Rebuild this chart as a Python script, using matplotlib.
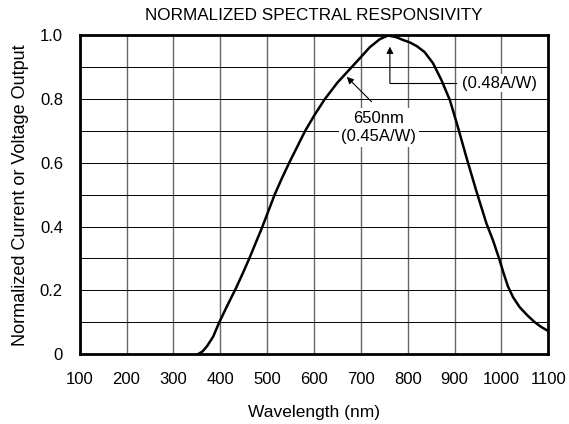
import numpy as np
import matplotlib.pyplot as plt
from matplotlib.ticker import MultipleLocator

plt.rcParams['font.family'] = ['Liberation Sans', 'DejaVu Sans']

# normalized spectral responsivity
wavelength = [353, 362, 372, 385, 398, 415, 432, 447, 462, 476, 490, 503, 516, 531,
              547, 564, 581, 601, 623, 650, 680, 700, 719, 740, 758, 775, 790, 805,
              820, 836, 854, 872, 890, 907, 925, 946, 968, 982, 995, 1005, 1014, 1025,
              1039, 1055, 1071, 1085, 1100]
response = [0.0, 0.008, 0.025, 0.055, 0.1, 0.152, 0.202, 0.25, 0.3, 0.35, 0.4, 0.45, 0.5, 0.55,
            0.6, 0.65, 0.7, 0.75, 0.8, 0.852, 0.9, 0.932, 0.963, 0.988, 1.0, 0.995, 0.986, 0.978,
            0.966, 0.948, 0.913, 0.86, 0.797, 0.713, 0.619, 0.514, 0.41, 0.357, 0.3, 0.252, 0.212, 0.178,
            0.147, 0.122, 0.1, 0.085, 0.072]

x_ticks = [100, 200, 300, 400, 500, 600, 700, 800, 900, 1000, 1100]
y_ticks = [0, 0.2, 0.4, 0.6, 0.8, 1.0]
y_tick_labels = ['0', '0.2', '0.4', '0.6', '0.8', '1.0']

fig = plt.figure(figsize=(5.69, 4.24), dpi=100)
ax = fig.add_axes([0.140, 0.165, 0.8236, 0.7513])

ax.set_xlim(100, 1100)
ax.set_ylim(0, 1.0)
ax.set_xticks(x_ticks)
ax.set_yticks(y_ticks)
ax.set_yticklabels(y_tick_labels)
ax.yaxis.set_minor_locator(MultipleLocator(0.1))
ax.tick_params(which='both', length=0, labelsize=12)
ax.tick_params(axis='x', pad=13)
ax.tick_params(axis='y', pad=12)

ax.grid(axis='x', which='major', color='#666666', linewidth=1.0)
ax.grid(axis='y', which='both', color='black', linewidth=0.7)
ax.set_axisbelow(True)
for s in ax.spines.values():
    s.set_linewidth(2.0)

ax.plot(wavelength, response, color='black', linewidth=1.8, zorder=3,
        solid_joinstyle='round')

# 650nm annotation
ax.annotate('', xy=(670, 0.87), xytext=(723, 0.792),
            arrowprops=dict(arrowstyle='-|>', color='black', lw=0.8,
                            mutation_scale=10, shrinkA=0, shrinkB=0), zorder=4)
ax.text(738, 0.711, '650nm\n(0.45A/W)', ha='center', va='center', fontsize=12,
        linespacing=1.3, zorder=4,
        bbox=dict(boxstyle='square,pad=0.15', fc='white', ec='none'))

# peak annotation
ax.plot([904, 762], [0.85, 0.85], color='black', linewidth=0.8, zorder=4)
ax.annotate('', xy=(762, 0.965), xytext=(762, 0.85),
            arrowprops=dict(arrowstyle='-|>', color='black', lw=0.8,
                            mutation_scale=10, shrinkA=0, shrinkB=0), zorder=4)
ax.text(915, 0.85, '(0.48A/W)', ha='left', va='center', fontsize=12, zorder=4,
        bbox=dict(boxstyle='square,pad=0.1', fc='white', ec='none'))

ax.set_xlabel('Wavelength (nm)', fontsize=12.5, labelpad=13)
ax.set_ylabel('Normalized Current or Voltage Output', fontsize=13, labelpad=8)
ax.set_title('NORMALIZED SPECTRAL RESPONSIVITY', fontsize=12.3, pad=11)

fig.savefig('out.png', dpi=100)
